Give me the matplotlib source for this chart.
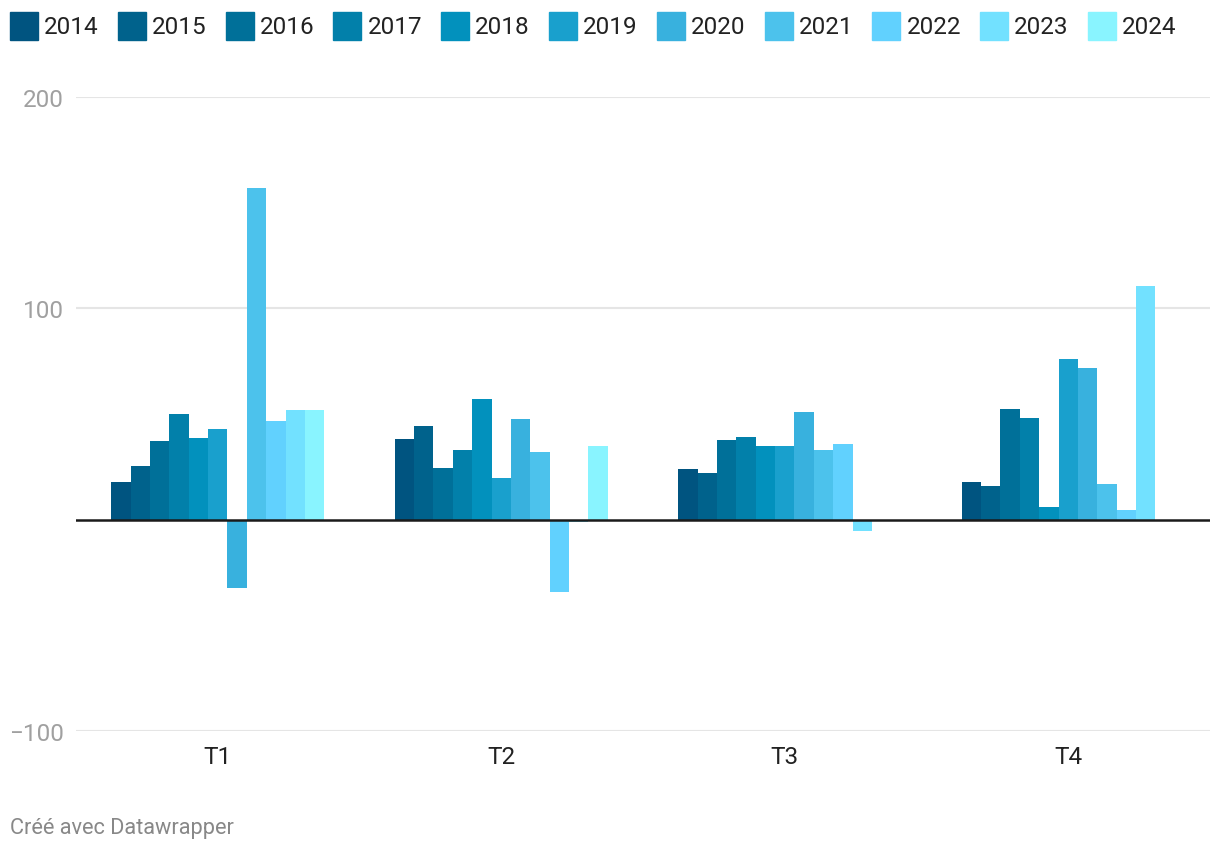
import numpy as np
import matplotlib.pyplot as plt
from matplotlib.patches import Rectangle

plt.rcParams['font.family'] = ['Roboto', 'DejaVu Sans']

quarters = ['T1', 'T2', 'T3', 'T4']
years = ['2014', '2015', '2016', '2017', '2018', '2019', '2020', '2021', '2022', '2023', '2024']
colors = ['#005480', '#00628c', '#007099', '#0280aa', '#0291bd', '#19a0cd',
          '#38b1de', '#4cc2ec', '#61d1fe', '#72e1ff', '#89f4ff']

# values per year, one per quarter (T1..T4)
values = {
    '2014': [18.0, 38.3, 24.1, 18.0],
    '2015': [25.5, 44.4, 22.2, 16.1],
    '2016': [37.4, 24.6, 37.8, 52.5],
    '2017': [50.1, 33.1, 39.2, 48.2],
    '2018': [38.8, 57.2, 35.0, 6.1],
    '2019': [43.0, 19.9, 35.0, 76.1],
    '2020': [-32.2, 47.8, 51.1, 71.9],
    '2021': [157.0, 32.2, 33.1, 17.0],
    '2022': [46.8, -34.0, 35.9, 4.7],
    '2023': [52.0, -1.0, -5.2, 110.6],
    '2024': [52.0, 35.0, 0.0, 0.0],
}

W, H = 1220, 854
fig = plt.figure(figsize=(W / 100, H / 100), dpi=100)
ax = fig.add_axes([76 / W, 122 / H, (1210 - 76) / W, 634 / H])

x = np.arange(len(quarters))
n = len(years)
bw = 0.752 / n
for j, yr in enumerate(years):
    ax.bar(x + (j - (n - 1) / 2) * bw, values[yr], width=bw, color=colors[j],
           linewidth=0, zorder=2)

ax.set_xlim(-0.5, 3.5)
ax.set_ylim(-100, 200)
ax.set_yticks([-100, 100, 200])
ax.set_yticklabels(['\u2212100', '100', '200'])
ax.grid(axis='y', color='#e5e5e5', linewidth=1.5, zorder=0)
ax.axhline(0, color='#1a1a1a', linewidth=1.8, zorder=3)
ax.set_xticks(x)
ax.set_xticklabels(quarters)
for s in ax.spines.values():
    s.set_visible(False)
ax.tick_params(axis='y', length=0, pad=8.5, labelsize=17.5, labelcolor='#a0a0a0')
ax.tick_params(axis='x', length=0, pad=10, labelsize=17.5, labelcolor='#222222')

# legend row
for j, yr in enumerate(years):
    lx = 10 + j * 107.8
    fig.patches.append(Rectangle((lx / W, 1 - 41 / H), 28 / W, 28 / H,
                                 transform=fig.transFigure, color=colors[j]))
    fig.text((lx + 34) / W, 1 - 28 / H, yr, fontsize=17.5, color='#222222',
             va='center', ha='left')

fig.text(10 / W, 1 - 829 / H, 'Créé avec Datawrapper', fontsize=15.7,
         color='#888888', va='center', ha='left')

fig.savefig('out.png', dpi=100)
